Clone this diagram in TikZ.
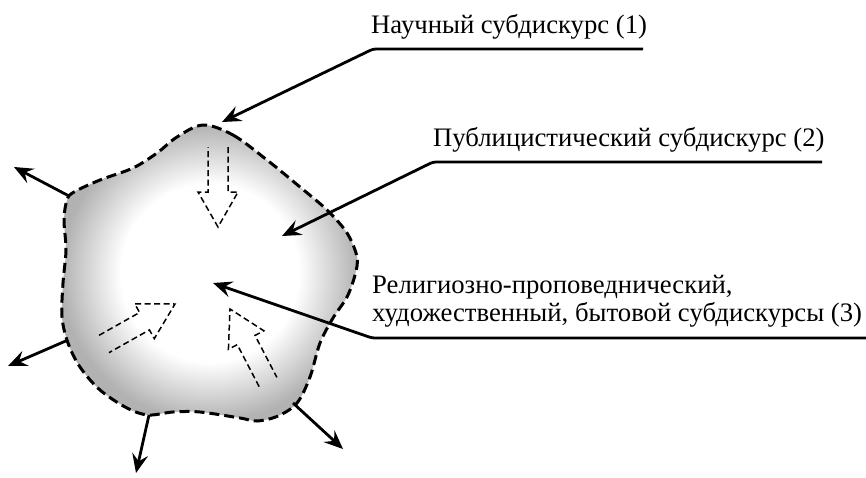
\documentclass[tikz,border=0pt]{standalone}
\usepackage{fontspec}
\setmainfont{Liberation Serif}
\usetikzlibrary{arrows.meta,calc}
\pgfdeclareradialshading{blobshade}{\pgfpoint{0bp}{0bp}}{color(0bp)=(white); color(15bp)=(white); color(25bp)=(black!30); color(50bp)=(black!30)}
\tikzset{
  lbl/.style={inner sep=0pt, font=\fontsize{26.7}{28}\selectfont, anchor=base west},
  solidarrow/.style={line width=2.8pt, -{Stealth[length=19pt,width=16pt,inset=7pt]}},
  leader/.style={line width=2.8pt, rounded corners=3pt, -{Stealth[length=19pt,width=16pt,inset=7pt]}},
  blobline/.style={line width=3pt, dash pattern=on 10pt off 5pt},
  hollow/.style={line width=1.5pt, dash pattern=on 6pt off 3.5pt, line join=miter},
}
\newcommand\hollowarrow[2]{%
  \coordinate (#1m) at ($(#2)!35pt!(#1)$);
  \draw[hollow] ($(#1)!10pt!90:(#2)$) -- ($(#1m)!10pt!-90:(#1)$) -- ($(#1m)!20pt!-90:(#1)$) -- (#2)
     -- ($(#1m)!20pt!90:(#1)$) -- ($(#1m)!10pt!90:(#1)$) -- ($(#1)!10pt!-90:(#2)$);
}
\begin{document}
\begin{tikzpicture}[x=1pt,y=-1pt]
\useasboundingbox (0,0) rectangle (866,477);
% blob
\def\blobpts{(203,125) (233,135) (267,160) (300,187) (327,210) (347,233) (357,257) (355,275) (347,297) (333,318) (320,343) (310,377) (297,403) (278,416) (257,421) (240,418) (200,412) (173,412) (148,415) (127,408) (100,390) (80,367) (68,343) (62,317) (63,283) (66,250) (64,220) (67,200) (74,192) (100,180) (133,168) (157,153) (177,137)}
\shade[shading=blobshade] plot[smooth cycle, tension=0.55] coordinates {\blobpts};
\draw[blobline] plot[smooth cycle, tension=0.55] coordinates {\blobpts};
% outward arrows
\coordinate (o1s) at (69,196); \coordinate (o1e) at (14,167);
\coordinate (o2s) at (68,340); \coordinate (o2e) at (8,366);
\coordinate (o3s) at (149,415); \coordinate (o3e) at (136,473);
\coordinate (o4s) at (293,403); \coordinate (o4e) at (343,449);
\draw[solidarrow] (o1s) -- (o1e);
\draw[solidarrow] (o2s) -- (o2e);
\draw[solidarrow] (o3s) -- (o3e);
\draw[solidarrow] (o4s) -- (o4e);
% hollow dashed arrows
\coordinate (ta) at (218,147); \coordinate (ha) at (218,227);
\coordinate (tb) at (104,344); \coordinate (hb) at (175,304);
\coordinate (tc) at (268,382); \coordinate (hc) at (230,309);
\hollowarrow{ta}{ha}
\hollowarrow{tb}{hb}
\hollowarrow{tc}{hc}
% labels
\node[lbl] (L1) at (371,33) {Научный субдискурс (1)};
\node[lbl] (L2) at (433,146) {Публицистический субдискурс (2)};
\node[lbl] (L3) at (372,321) {\begin{tabular}[b]{@{}l@{}}Религиозно-проповеднический,\\художественный, бытовой субдискурсы (3)\end{tabular}};
% leaders
\coordinate (u1b) at (643,49); \coordinate (u1a) at (373,49); \coordinate (p1) at (222,122);
\coordinate (u2b) at (822,162); \coordinate (u2a) at (433,162); \coordinate (p2) at (282,236);
\coordinate (u3b) at (866,338); \coordinate (u3a) at (372,338); \coordinate (p3) at (213,283);
\draw[leader] (u1b) -- (u1a) -- (p1);
\draw[leader] (u2b) -- (u2a) -- (p2);
\draw[leader] (u3b) -- (u3a) -- (p3);
\end{tikzpicture}
\end{document}
